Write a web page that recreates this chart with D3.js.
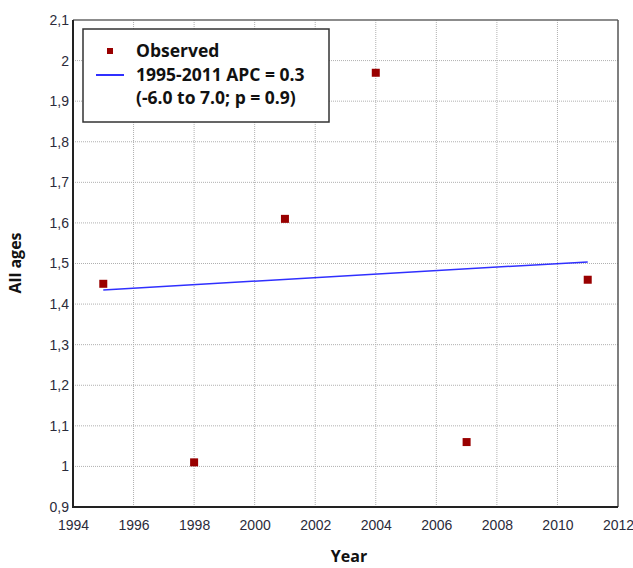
<!DOCTYPE html>
<html>
<head>
  <meta charset="utf-8">
  <script src="https://d3js.org/d3.v7.min.js"></script>
  <style>
    body { margin: 0; background: #fff; }
    .tick text { font-family: "Liberation Sans", sans-serif; font-size: 14px; fill: #2b2b3a; }
  </style>
</head>
<body>
<svg id="chart" width="633" height="568"></svg>
<script>
  // observed points
  const years = [1995, 1998, 2001, 2004, 2007, 2011];
  const observed = [1.45, 1.01, 1.61, 1.97, 1.06, 1.46];

  // fitted trend (endpoints)
  const trendYears = [1995, 2011];
  const trendValues = [1.435, 1.504];

  const xTicks = [1994, 1996, 1998, 2000, 2002, 2004, 2006, 2008, 2010, 2012];
  const yTicks = [0.9, 1.0, 1.1, 1.2, 1.3, 1.4, 1.5, 1.6, 1.7, 1.8, 1.9, 2.0, 2.1];

  const legendLabels = ['Observed', '1995-2011 APC = 0.3', '(-6.0 to 7.0; p = 0.9)'];

  const svg = d3.select('#chart');
  const margin = { top: 20, right: 15, bottom: 61, left: 73 };
  const width = 633 - margin.left - margin.right;
  const height = 568 - margin.top - margin.bottom;

  const g = svg.append('g')
    .attr('transform', `translate(${margin.left},${margin.top})`);

  const x = d3.scaleLinear().domain([1994, 2012]).range([0, width]);
  const y = d3.scaleLinear().domain([0.9, 2.1]).range([height, 0]);

  const fmt = d => d3.format('.1~f')(d).replace('.', ',');

  // grid
  g.append('g').selectAll('line')
    .data(xTicks.slice(1, -1))
    .join('line')
    .attr('x1', d => x(d)).attr('x2', d => x(d))
    .attr('y1', 0).attr('y2', height)
    .attr('stroke', '#b0b0b0').attr('stroke-dasharray', '1,1');
  g.append('g').selectAll('line')
    .data(yTicks.slice(1, -1))
    .join('line')
    .attr('x1', 0).attr('x2', width)
    .attr('y1', d => y(d)).attr('y2', d => y(d))
    .attr('stroke', '#b0b0b0').attr('stroke-dasharray', '1,1');

  // axes
  const xAxis = g.append('g')
    .attr('transform', `translate(0,${height})`)
    .call(d3.axisBottom(x).tickValues(xTicks).tickFormat(d3.format('d')).tickSize(0).tickPadding(13));
  xAxis.select('.domain').remove();

  const yAxis = g.append('g')
    .call(d3.axisLeft(y).tickValues(yTicks).tickFormat(fmt).tickSize(0).tickPadding(4));
  yAxis.select('.domain').remove();

  // frame
  g.append('line').attr('x1', 0).attr('x2', width).attr('y1', 0).attr('y2', 0)
    .attr('stroke', '#666').attr('stroke-width', 1.5);
  g.append('line').attr('x1', width).attr('x2', width).attr('y1', 0).attr('y2', height)
    .attr('stroke', '#555').attr('stroke-width', 1.5);
  g.append('line').attr('x1', 0).attr('x2', 0).attr('y1', 0).attr('y2', height + 1)
    .attr('stroke', '#222').attr('stroke-width', 2);
  g.append('line').attr('x1', 0).attr('x2', width).attr('y1', height).attr('y2', height)
    .attr('stroke', '#222').attr('stroke-width', 2);

  // trend line
  const line = d3.line().x(d => x(d[0])).y(d => y(d[1]));
  g.append('path')
    .datum(d3.zip(trendYears, trendValues))
    .attr('fill', 'none')
    .attr('stroke', '#3030ff')
    .attr('stroke-width', 1.5)
    .attr('d', line);

  // points
  g.selectAll('rect.pt')
    .data(d3.zip(years, observed))
    .join('rect')
    .attr('class', 'pt')
    .attr('x', d => x(d[0]) - 4)
    .attr('y', d => y(d[1]) - 4)
    .attr('width', 8).attr('height', 8)
    .attr('fill', '#990000');

  // legend
  const lg = svg.append('g').attr('transform', 'translate(83,29)');
  lg.append('rect')
    .attr('width', 246).attr('height', 93)
    .attr('fill', '#fff').attr('stroke', '#333').attr('stroke-width', 1.5);
  lg.append('rect').attr('x', 24).attr('y', 19).attr('width', 6).attr('height', 6).attr('fill', '#990000');
  lg.append('line').attr('x1', 13).attr('x2', 41).attr('y1', 46).attr('y2', 46)
    .attr('stroke', '#3030ff').attr('stroke-width', 2);
  lg.selectAll('text')
    .data(legendLabels)
    .join('text')
    .attr('x', 53)
    .attr('y', (d, i) => 28 + i * 23.5)
    .attr('font-family', '"Open Sans", sans-serif')
    .attr('font-weight', 'bold')
    .attr('font-size', 17.5)
    .attr('fill', '#111')
    .text(d => d);

  // axis titles
  svg.append('text')
    .attr('x', 349).attr('y', 562)
    .attr('text-anchor', 'middle')
    .attr('font-family', '"Open Sans", sans-serif')
    .attr('font-weight', 'bold').attr('font-size', 16).attr('fill', '#111')
    .text('Year');
  svg.append('text')
    .attr('transform', 'translate(21,263) rotate(-90)')
    .attr('text-anchor', 'middle')
    .attr('font-family', '"Open Sans", sans-serif')
    .attr('font-weight', 'bold').attr('font-size', 16).attr('fill', '#111')
    .text('All ages');
</script>
</body>
</html>
